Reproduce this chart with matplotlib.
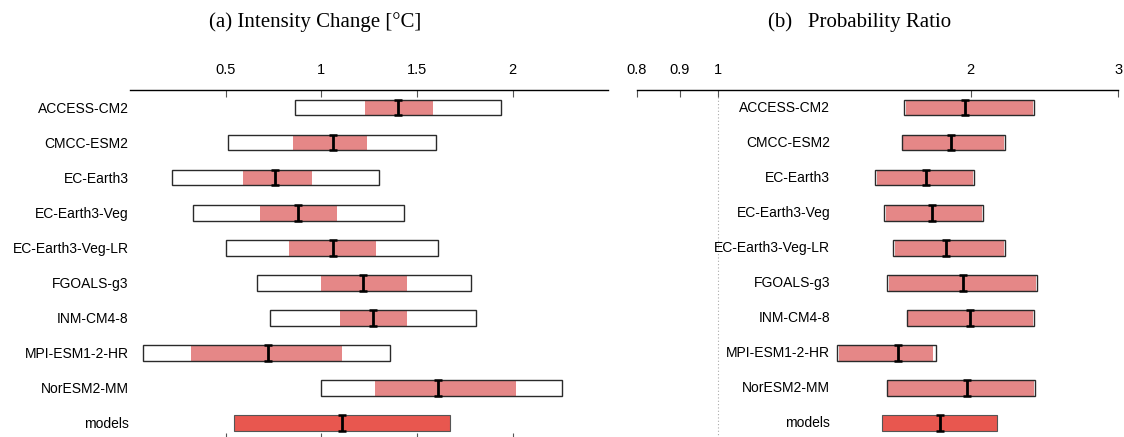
import numpy as np
import matplotlib
matplotlib.use("Agg")
import matplotlib.pyplot as plt
from matplotlib.ticker import NullLocator

plt.rcParams['font.family'] = ['Liberation Sans', 'DejaVu Sans']

# model names, top to bottom
model_names = ['ACCESS-CM2', 'CMCC-ESM2', 'EC-Earth3', 'EC-Earth3-Veg',
               'EC-Earth3-Veg-LR', 'FGOALS-g3', 'INM-CM4-8', 'MPI-ESM1-2-HR',
               'NorESM2-MM']
synth_name = 'models'

# intensity change [degC]: outer range, inner range, best estimate
int_lo = [0.86, 0.51, 0.22, 0.33, 0.50, 0.665, 0.73, 0.07, 1.00]
int_hi = [1.94, 1.60, 1.30, 1.43, 1.61, 1.78, 1.81, 1.36, 2.26]
int_lo_in = [1.23, 0.85, 0.59, 0.68, 0.83, 1.00, 1.10, 0.32, 1.28]
int_hi_in = [1.585, 1.24, 0.95, 1.08, 1.285, 1.45, 1.45, 1.11, 2.02]
int_best = [1.40, 1.06, 0.76, 0.88, 1.06, 1.22, 1.27, 0.72, 1.61]
synth_int = [0.545, 1.11, 1.675]   # low, best, high

# probability ratio
pr_lo = [1.668, 1.657, 1.539, 1.579, 1.618, 1.589, 1.678, 1.388, 1.588]
pr_hi = [2.378, 2.199, 2.019, 2.069, 2.199, 2.398, 2.378, 1.818, 2.385]
pr_lo_in = [1.675, 1.662, 1.545, 1.585, 1.625, 1.597, 1.682, 1.392, 1.592]
pr_hi_in = [2.372, 2.193, 2.013, 2.063, 2.193, 2.392, 2.372, 1.806, 2.380]
pr_best = [1.970, 1.898, 1.769, 1.798, 1.870, 1.959, 1.997, 1.639, 1.981]
synth_pr = [1.568, 1.840, 2.150]

int_ticks = [0.5, 1, 1.5, 2]
int_ticklabels = ['0.5', '1', '1.5', '2']
pr_ticks = [0.8, 0.9, 1, 2, 3]
pr_ticklabels = ['0.8', '0.9', '1', '2', '3']

PINK = '#e58787'
RED = '#e8574f'
EDGE = '#2a2a2a'
H = 0.45


def draw_rows(ax, lo, hi, lo_in, hi_in, best, synth):
    y = np.arange(len(lo))
    lo, hi = np.array(lo), np.array(hi)
    lo_in, hi_in = np.array(lo_in), np.array(hi_in)
    ax.barh(y, hi - lo, left=lo, height=H, color='white', lw=0, zorder=1)
    ax.barh(y, hi_in - lo_in, left=lo_in, height=H, color=PINK, lw=0, zorder=2)
    ax.barh(y, hi - lo, left=lo, height=H, fill=False, edgecolor=EDGE,
            lw=1.0, zorder=3)
    ys = len(lo)
    ax.barh(ys, synth[2] - synth[0], left=synth[0], height=H, color=RED,
            edgecolor='#555555', lw=0.8, zorder=2)
    ax.errorbar(list(best) + [synth[1]], list(y) + [ys], yerr=H / 2,
                fmt='none', ecolor='black', elinewidth=2.0, capsize=2.6,
                capthick=1.8, zorder=4)


fig = plt.figure(figsize=(11.24, 4.37), dpi=100)
bottom = -0.008
height = 0.8021

# (a) intensity change
ax1 = fig.add_axes([0.1157, bottom, 0.4255, height])
draw_rows(ax1, int_lo, int_hi, int_lo_in, int_hi_in, int_best, synth_int)
ax1.set_xlim(0, 2.5)
ax1.set_ylim(9.5, -0.5)
ax1.set_yticks(range(len(model_names) + 1))
ax1.set_yticklabels(model_names + [synth_name], fontsize=10)
ax1.tick_params(axis='y', length=0, pad=1)
ax1.set_xticks(int_ticks)
ax1.set_xticklabels(int_ticklabels, fontsize=10.5)
ax1.tick_params(axis='x', direction='in', top=True, bottom=True,
                labeltop=True, labelbottom=False, length=5, width=0.8,
                color='#555555', pad=9)
for s in ['left', 'right', 'bottom']:
    ax1.spines[s].set_visible(False)
ax1.spines['top'].set_linewidth(1.0)

# (b) probability ratio
ax2 = fig.add_axes([0.5665, bottom, 0.4284, height])
ax2.set_xscale('log')
draw_rows(ax2, pr_lo, pr_hi, pr_lo_in, pr_hi_in, pr_best, synth_pr)
ax2.set_xlim(0.8, 3)
ax2.set_ylim(9.5, -0.5)
ax2.axvline(1, color='#aaaaaa', lw=0.8, ls=(0, (1, 2)), zorder=0)
ax2.set_xticks(pr_ticks)
ax2.set_xticklabels(pr_ticklabels, fontsize=10.5)
ax2.xaxis.set_minor_locator(NullLocator())
ax2.tick_params(axis='x', direction='in', top=True, bottom=False,
                labeltop=True, labelbottom=False, length=5, width=0.8,
                color='#555555', pad=9)
ax2.set_yticks([])
for s in ['left', 'right', 'bottom']:
    ax2.spines[s].set_visible(False)
ax2.spines['top'].set_linewidth(1.0)
for i, name in enumerate(model_names + [synth_name]):
    ax2.text(1.36, i, name, ha='right', va='center', fontsize=10)

fig.text(315 / 1124, 1 - 22 / 437, '(a) Intensity Change [°C]',
         ha='center', va='center', fontsize=15, family='Liberation Serif')
fig.text(860 / 1124, 1 - 22 / 437, '(b)   Probability Ratio',
         ha='center', va='center', fontsize=15, family='Liberation Serif')

fig.savefig('out.png', dpi=100)
